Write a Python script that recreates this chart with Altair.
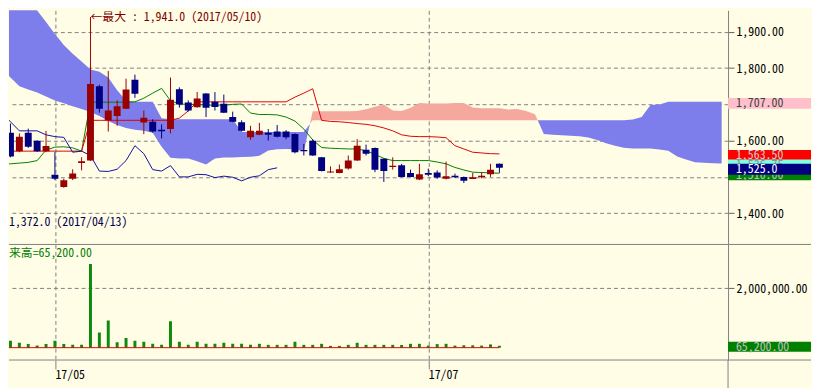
import altair as alt
import pandas as pd

# ---------------- data ----------------
bar_index = list(range(57))
opens = [1690, 1622, 1571, 1622, 1600, 1571, 1506, 1472, 1495, 1538,
         1545, 1750, 1656, 1668, 1688, 1768, 1650, 1652, 1630, 1632,
         1742, 1705, 1692, 1730, 1707, 1702, 1665, 1651, 1609, 1616,
         1622, 1625, 1625, 1618, 1574, 1600, 1554, 1512, 1511, 1523,
         1545, 1575, 1580, 1550, 1527, 1532, 1511, 1493, 1511, 1512,
         1495, 1503, 1500, 1494, 1499, 1507, 1536]
highs = [1700, 1647, 1620, 1633, 1601, 1627, 1568, 1495, 1521, 1554,
         1941, 1754, 1792, 1711, 1771, 1782, 1683, 1659, 1645, 1774,
         1747, 1711, 1734, 1731, 1734, 1727, 1680, 1656, 1641, 1649,
         1632, 1643, 1629, 1620, 1591, 1604, 1555, 1529, 1534, 1559,
         1604, 1589, 1581, 1551, 1554, 1536, 1520, 1536, 1523, 1518,
         1542, 1509, 1501, 1511, 1513, 1536, 1537]
lows = [1650, 1554, 1568, 1580, 1569, 1568, 1491, 1470, 1491, 1518,
        1544, 1677, 1625, 1641, 1687, 1718, 1618, 1622, 1606, 1620,
        1691, 1680, 1691, 1665, 1683, 1676, 1651, 1625, 1602, 1615,
        1600, 1609, 1604, 1565, 1559, 1558, 1515, 1511, 1510, 1520,
        1544, 1559, 1513, 1486, 1520, 1499, 1499, 1491, 1502, 1495,
        1493, 1497, 1483, 1494, 1496, 1500, 1511]
closes = [1660, 1556, 1611, 1583, 1571, 1585, 1495, 1491, 1509, 1543,
          1756, 1688, 1683, 1695, 1741, 1729, 1663, 1625, 1626, 1713,
          1700, 1683, 1716, 1691, 1693, 1677, 1652, 1627, 1627, 1627,
          1616, 1611, 1609, 1568, 1571, 1559, 1516, 1515, 1521, 1545,
          1586, 1564, 1520, 1516, 1531, 1500, 1500, 1507, 1506, 1498,
          1502, 1499, 1489, 1499, 1503, 1520, 1525]
volumes = [330000, 230000, 165000, 120000, 75000, 120000, 230000, 120000, 95000, 95000,
           2820000, 510000, 920000, 185000, 330000, 230000, 200000, 130000, 95000, 890000,
           200000, 95000, 200000, 130000, 130000, 165000, 130000, 130000, 95000, 130000,
           95000, 95000, 95000, 200000, 95000, 95000, 130000, 60000, 60000, 95000,
           165000, 95000, 95000, 95000, 95000, 90000, 130000, 130000, 70000, 120000,
           130000, 70000, 80000, 80000, 70000, 110000, 65200]
tenkan = [1536, 1536, 1538, 1540, 1545, 1574, 1582, 1583, 1580, 1571,
          1706, 1706, 1706, 1706, 1706, 1707, 1717, 1731, 1744, 1710,
          1701, 1700, 1700, 1698, 1698, 1698, 1700, 1701, 1676, 1672,
          1672, 1671, 1665, 1654, 1632, 1602, 1581, 1579, 1578, 1577,
          1577, 1572, 1562, 1551, 1545, 1545, 1545, 1545, 1545, 1541,
          1536, 1526, 1519, 1513, 1512, 1511, 1510]
kijun = [1571, 1571, 1571, 1571, 1571, 1571, 1571, 1571, 1571, 1571,
         1656, 1656, 1656, 1656, 1656, 1656, 1656, 1656, 1656, 1656,
         1662, 1682, 1707, 1707, 1707, 1707, 1707, 1707, 1707, 1707,
         1707, 1707, 1707, 1720, 1731, 1743, 1656, 1653, 1652, 1650,
         1647, 1645, 1641, 1635, 1627, 1616, 1612, 1611, 1611, 1610,
         1608, 1586, 1577, 1568, 1566, 1564, 1563.5]
span_a = [1800, 1774, 1750, 1741, 1733, 1722, 1711, 1703, 1695, 1687,
          1679, 1668, 1654, 1643, 1635, 1630, 1627, 1622, 1583, 1553,
          1551, 1551, 1543, 1534, 1551, 1553.5, 1553.5, 1554.5, 1555.5, 1558,
          1572.5, 1576.5, 1577, 1575.5, 1571, 1681, 1681, 1681, 1681, 1681,
          1681.5, 1686.5, 1693.5, 1700, 1683, 1681.5, 1691, 1703.5, 1702.5, 1702.5,
          1702.5, 1703.5, 1704, 1691.5, 1689.5, 1689.5, 1689, 1686, 1687, 1681.5,
          1672.5, 1618.5, 1616, 1615, 1613.5, 1612, 1608.5, 1601.5, 1593, 1586,
          1580.5, 1578.5, 1578, 1578, 1575.5, 1572, 1556, 1548, 1540.5, 1539,
          1537.5, 1536.75]
span_b = [2022, 2014, 2003, 1989, 1959, 1927, 1894, 1864, 1840, 1818,
          1796, 1790, 1774, 1739, 1711, 1707, 1707, 1707, 1662, 1659,
          1659, 1659, 1659, 1659, 1659, 1659, 1659, 1624, 1624, 1624,
          1624, 1624, 1624, 1624, 1624, 1656, 1656, 1656, 1656, 1656,
          1656, 1656, 1656, 1656, 1656, 1656, 1656, 1656, 1656, 1656,
          1656, 1656, 1656, 1656, 1656, 1656, 1656, 1656, 1656, 1656,
          1656, 1656, 1656, 1656, 1656, 1656, 1656, 1656, 1656, 1656,
          1656, 1658, 1665, 1698, 1700, 1707, 1707, 1707, 1707, 1707,
          1707, 1707]
chikou_shift = 25

xtick_values = [6, 48]
xtick_labels = ["17/05", "17/07"]
price_ticks = [1400, 1500, 1600, 1700, 1800, 1900]
price_hidden = [1500, 1700]
volume_ticks = [2000000]

max_note = "←最大 : 1,941.0 (2017/05/10)"
max_note_x, max_note_y = 10, 1941
min_note = "1,372.0 (2017/04/13)"
min_note_y = 1372
volume_note = "来高=65,200.00"

label_values = [1707, 1563.5, 1536.75, 1510, 1525]
label_texts = ["1,707.00", "1,563.50", "1,536.75", "1,510.00", "1,525.0"]
vol_label_value = 65200
vol_label_text = "65,200.00"

# ---------------- styles ----------------
BG = "#FFFDE6"
GRID = "#808080"
UP = "#990000"
DOWN = "#000080"
CLOUD_BLUE = "#7D7DEB"
CLOUD_SALMON = "#F5A89E"
FONT = "Noto Sans Mono CJK JP, Noto Sans CJK JP, DejaVu Sans Mono, monospace"
label_fills = ["#FFC0CB", "#FF0000", "#80FFE0", "#008000", "#000080"]
label_text_colors = ["#404040", "#D0D0D0", "#909090", "#C0C0C0", "#FFFFFF"]

W = 728
H_PRICE = 236
H_VOL = 117

xscale = alt.Scale(domain=[0.833, 81.72], nice=False, zero=False, padding=0)
pscale = alt.Scale(domain=[1316.3, 1959.35], nice=False, zero=False, padding=0)
vscale = alt.Scale(domain=[-416667, 3483333], nice=False, zero=False, padding=0)

label_expr_x = " : ".join(
    [f"datum.value == {v} ? '{t}'" for v, t in zip(xtick_values, xtick_labels)]) + " : ''"

xaxis_top = alt.Axis(values=xtick_values, grid=True, gridDash=[4, 3], gridColor=GRID,
                     labels=False, ticks=False, domain=False, title=None)
xaxis_bot = alt.Axis(values=xtick_values, grid=True, gridDash=[4, 3], gridColor=GRID,
                     labels=True, labelExpr=label_expr_x, labelAlign="left",
                     labelBaseline="top", labelFlush=False, ticks=True, tickSize=9,
                     tickColor=GRID, domain=False, labelFont=FONT, labelFontSize=12,
                     labelColor="#000000", labelPadding=1, title=None)
paxis = alt.Axis(orient="right", values=price_ticks, grid=True, gridDash=[4, 3],
                 gridColor=GRID,
                 labelExpr=f"indexof({price_hidden}, datum.value) >= 0 ? '' : format(datum.value, ',.2f')",
                 domain=True, domainColor=GRID, ticks=True, tickSize=6, tickColor="#606060",
                 labelFont=FONT, labelFontSize=12, labelColor="#000000", labelPadding=2,
                 labelFlush=False, title=None)
vaxis = alt.Axis(orient="right", values=volume_ticks, format=",.2f", grid=True,
                 gridDash=[4, 3], gridColor=GRID, domain=True, domainColor=GRID,
                 ticks=True, tickSize=6, tickColor="#606060", labelFont=FONT,
                 labelFontSize=12, labelColor="#000000", labelPadding=2,
                 labelFlush=False, title=None)


def XT(f):
    return alt.X(f, scale=xscale, axis=xaxis_top)


def XB(f):
    return alt.X(f, scale=xscale, axis=xaxis_bot)


def PY(f):
    return alt.Y(f, scale=pscale, axis=paxis, stack=False)


def VY(f):
    return alt.Y(f, scale=vscale, axis=vaxis, stack=False)


# ---------------- tables ----------------
candles = pd.DataFrame({"x": bar_index, "o": opens, "h": highs, "l": lows, "c": closes})
up_candles = candles[candles["c"] >= candles["o"]]
down_candles = candles[candles["c"] < candles["o"]]

lines = pd.DataFrame({"x": bar_index, "tenkan": tenkan, "kijun": kijun})
chikou = pd.DataFrame({"x": bar_index[:len(closes) - chikou_shift],
                       "v": closes[chikou_shift:]})

cloud_rows = []
seg = 0
prev = None
for i, (a, b) in enumerate(zip(span_a, span_b)):
    kind = "blue" if b >= a else "salmon"
    if prev is not None and kind != prev[3]:
        pi, pa, pb, pk = prev
        t = (pb - pa) / ((pb - pa) - (b - a))
        xc = pi + t
        yc = pa + t * (a - pa)
        cloud_rows.append(dict(x=xc, top=yc, bot=yc, seg=seg, kind=pk))
        seg += 1
        cloud_rows.append(dict(x=xc, top=yc, bot=yc, seg=seg, kind=kind))
    cloud_rows.append(dict(x=i, top=max(a, b), bot=min(a, b), seg=seg, kind=kind))
    prev = (i, a, b, kind)
cloud = pd.DataFrame(cloud_rows)

vol = pd.DataFrame({"x": bar_index, "vol": volumes})

# ---------------- price panel ----------------
cloud_layers = []
for kind, col in [("blue", CLOUD_BLUE), ("salmon", CLOUD_SALMON)]:
    cloud_layers.append(
        alt.Chart(cloud[cloud["kind"] == kind]).mark_area(clip=True, opacity=1, color=col).encode(
            x=XT("x:Q"), y=PY("top:Q"), y2="bot:Q", detail="seg:N"))
tenkan_layer = alt.Chart(lines).mark_line(clip=True, color="#008000", strokeWidth=1).encode(
    x=XT("x:Q"), y=PY("tenkan:Q"))
kijun_layer = alt.Chart(lines).mark_line(clip=True, color="#E00000", strokeWidth=1).encode(
    x=XT("x:Q"), y=PY("kijun:Q"))
chikou_layer = alt.Chart(chikou).mark_line(clip=True, color="#1010A0", strokeWidth=1).encode(
    x=XT("x:Q"), y=PY("v:Q"))
candle_layers = []
for d, col in [(up_candles, UP), (down_candles, DOWN)]:
    candle_layers.append(alt.Chart(d).mark_rule(clip=True, strokeWidth=1, color=col).encode(
        x=XT("x:Q"), y=PY("l:Q"), y2="h:Q"))
    candle_layers.append(alt.Chart(d).mark_bar(clip=True, size=7, color=col).encode(
        x=XT("x:Q"), y=PY("o:Q"), y2="c:Q"))
max_layer = alt.Chart(pd.DataFrame({"x": [max_note_x], "y": [max_note_y], "t": [max_note]})).mark_text(
    align="left", baseline="middle", font=FONT, fontSize=12, color="#800000").encode(
    x=XT("x:Q"), y=PY("y:Q"), text="t:N")
min_layer = alt.Chart(pd.DataFrame({"y": [min_note_y], "t": [min_note]})).mark_text(
    align="left", baseline="middle", font=FONT, fontSize=12, color="#000050", dy=-1).encode(
    x=alt.value(0), y=PY("y:Q"), text="t:N")

label_layers = []
for v, t, f, tc in zip(label_values, label_texts, label_fills, label_text_colors):
    d = pd.DataFrame({"v": [v], "t": [t]})
    label_layers.append(alt.Chart(d).mark_tick(orient="horizontal", thickness=11, size=84,
                                               color=f, opacity=1, yOffset=1.5).encode(
        x=alt.value(770), y=PY("v:Q")))
    label_layers.append(alt.Chart(d).mark_text(align="left", baseline="middle", font=FONT,
                                               fontSize=12, color=tc, dy=1.5).encode(
        x=alt.value(736), y=PY("v:Q"), text="t:N"))

price = alt.layer(*cloud_layers, tenkan_layer, kijun_layer, chikou_layer, *candle_layers,
                  max_layer, min_layer, *label_layers).properties(
    width=W, height=H_PRICE)

# ---------------- volume panel ----------------
vbars = alt.Chart(vol).mark_bar(clip=True, size=3, color="#0C8C0C").encode(
    x=XB("x:Q"), y=VY("vol:Q"))
vline = alt.Chart(pd.DataFrame({"x": [bar_index[0]], "x2": [bar_index[-1]], "y": [0]})).mark_rule(
    clip=True, color="#E00000").encode(x=XB("x:Q"), x2="x2:Q", y=VY("y:Q"))
vnote = alt.Chart(pd.DataFrame({"t": [volume_note]})).mark_text(
    align="left", baseline="middle", font=FONT, fontSize=12, color="#008000").encode(
    x=alt.value(0), y=alt.value(9), text="t:N")
vd = pd.DataFrame({"v": [vol_label_value], "t": [vol_label_text]})
vbox = alt.Chart(vd).mark_tick(orient="horizontal", thickness=10, size=84, color="#008000",
                               opacity=1, yOffset=1).encode(x=alt.value(770), y=VY("v:Q"))
vtext = alt.Chart(vd).mark_text(align="left", baseline="middle", font=FONT, fontSize=12,
                                color="#C0C0C0", dy=1).encode(
    x=alt.value(736), y=VY("v:Q"), text="t:N")
sep_top = alt.Chart(pd.DataFrame({"a": [0]})).mark_rule(color=GRID).encode(
    x=alt.value(0), x2=alt.value(812), y=alt.value(0))
sep_bot = alt.Chart(pd.DataFrame({"a": [0]})).mark_rule(color=GRID).encode(
    x=alt.value(0), x2=alt.value(812), y=alt.value(H_VOL))
vert_ext = alt.Chart(pd.DataFrame({"a": [0]})).mark_rule(color=GRID).encode(
    x=alt.value(W), y=alt.value(H_VOL), y2=alt.value(H_VOL + 30))

volume = alt.layer(vbars, vline, vnote, vbox, vtext, sep_top, sep_bot, vert_ext).properties(
    width=W, height=H_VOL)

chart = alt.vconcat(price, volume, spacing=0).properties(
    padding=0, background=BG).configure_view(strokeWidth=0)

chart.save("out.html", embed_options={"renderer": "svg", "actions": False})
